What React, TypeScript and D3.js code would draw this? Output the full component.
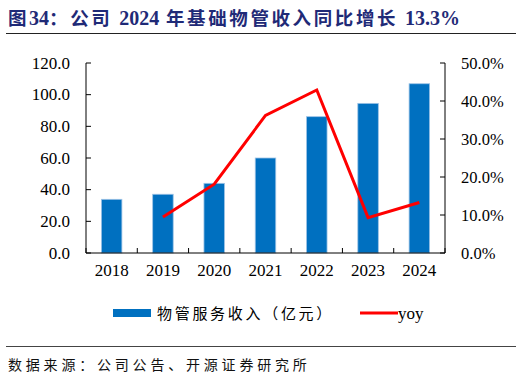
import React from "react";
import * as d3 from "d3";

const years = ["2018", "2019", "2020", "2021", "2022", "2023", "2024"];
const revenue = [33.9, 37.1, 44.0, 60.0, 86.1, 94.5, 106.9];
const yoyYears = ["2019", "2020", "2021", "2022", "2023", "2024"];
const yoy = [9.5, 18.1, 36.2, 42.9, 9.3, 13.3];
const leftTicks = [0, 20, 40, 60, 80, 100, 120];
const rightTicks = [0, 10, 20, 30, 40, 50];
const titleParts = ["图", "34", "：公司 ", "2024", " 年基础物管收入同比增长 ", "13.3%"];
const source = "数据来源：公司公告、开源证券研究所";
const barLabel = "物管服务收入（亿元）";
const lineLabel = "yoy";

export default function App() {
  const W = 522, H = 377;
  const left = 86, right = 445, top = 63, bottom = 253;
  const x = d3.scaleBand().domain(years).range([left, right]).paddingInner(0.6).paddingOuter(0.3);
  const xc = (d: string) => (x(d) as number) + x.bandwidth() / 2;
  const yL = d3.scaleLinear().domain([0, 120]).range([bottom, top]);
  const yR = d3.scaleLinear().domain([0, 50]).range([bottom, top]);
  const step = (right - left) / years.length;
  const line = d3.line<number>().x((_, i) => xc(yoyYears[i])).y((d) => yR(d));
  const serif = "'Liberation Serif', 'Times New Roman', serif";
  const cjk = "'Noto Sans CJK SC', sans-serif";
  const isNum = (s: string) => /^[0-9.%]+$/.test(s);
  return (
    <svg width={W} height={H} style={{ position: "absolute", left: 0, top: 0, background: "#fff" }}>
      <text x={8} y={25} fontWeight="bold" fill="#1F2A77">
        {titleParts.map((p, i) => (
          <tspan key={i} fontFamily={isNum(p) ? serif : cjk} fontSize={isNum(p) ? 20 : 18.5} letterSpacing={isNum(p) ? 0 : 2.6}>{p}</tspan>
        ))}
      </text>
      <line x1={6} x2={516} y1={33.5} y2={33.5} stroke="#222" strokeWidth={1.2} />
      {years.map((d, i) => (
        <rect key={d} x={x(d)} y={yL(revenue[i])} width={x.bandwidth()} height={bottom - yL(revenue[i])} fill="#0070C0" stroke="#9DC3E6" strokeWidth={0.8} />
      ))}
      <path d={line(yoy) || ""} fill="none" stroke="#FF0000" strokeWidth={3} strokeLinejoin="miter" />
      <line x1={left} x2={left} y1={top} y2={bottom} stroke="#000" strokeWidth={1} />
      <line x1={right} x2={right} y1={top} y2={bottom} stroke="#000" strokeWidth={1} />
      <line x1={left} x2={right} y1={bottom} y2={bottom} stroke="#000" strokeWidth={1} />
      {leftTicks.map((t) => (
        <g key={"l" + t}>
          <line x1={left} x2={left + 5} y1={yL(t)} y2={yL(t)} stroke="#000" />
          <text x={70} y={yL(t) + 5.5} textAnchor="end" fontFamily={serif} fontSize={17}>{t.toFixed(1)}</text>
        </g>
      ))}
      {rightTicks.map((t) => (
        <g key={"r" + t}>
          <line x1={right - 5} x2={right} y1={yR(t)} y2={yR(t)} stroke="#000" />
          <text x={461} y={yR(t) + 5.5} textAnchor="start" fontFamily={serif} fontSize={16.5}>{t.toFixed(1) + "%"}</text>
        </g>
      ))}
      {d3.range(years.length + 1).map((i) => (
        <line key={"t" + i} x1={left + i * step} x2={left + i * step} y1={bottom - 5} y2={bottom} stroke="#000" />
      ))}
      {years.map((d) => (
        <text key={"x" + d} x={xc(d)} y={276} textAnchor="middle" fontFamily={serif} fontSize={17}>{d}</text>
      ))}
      <rect x={113} y={309} width={38} height={8} fill="#0070C0" />
      <text x={157} y={319} fontFamily={cjk} fontSize={15} letterSpacing={2.7}>{barLabel}</text>
      <line x1={360} x2={398} y1={313} y2={313} stroke="#FF0000" strokeWidth={3} />
      <text x={398} y={319} fontFamily={serif} fontSize={17}>{lineLabel}</text>
      <line x1={6} x2={516} y1={346.5} y2={346.5} stroke="#444" strokeWidth={1} />
      <text x={8} y={370} fontFamily={cjk} fontSize={14} letterSpacing={3.8} fill="#111">{source}</text>
    </svg>
  );
}
